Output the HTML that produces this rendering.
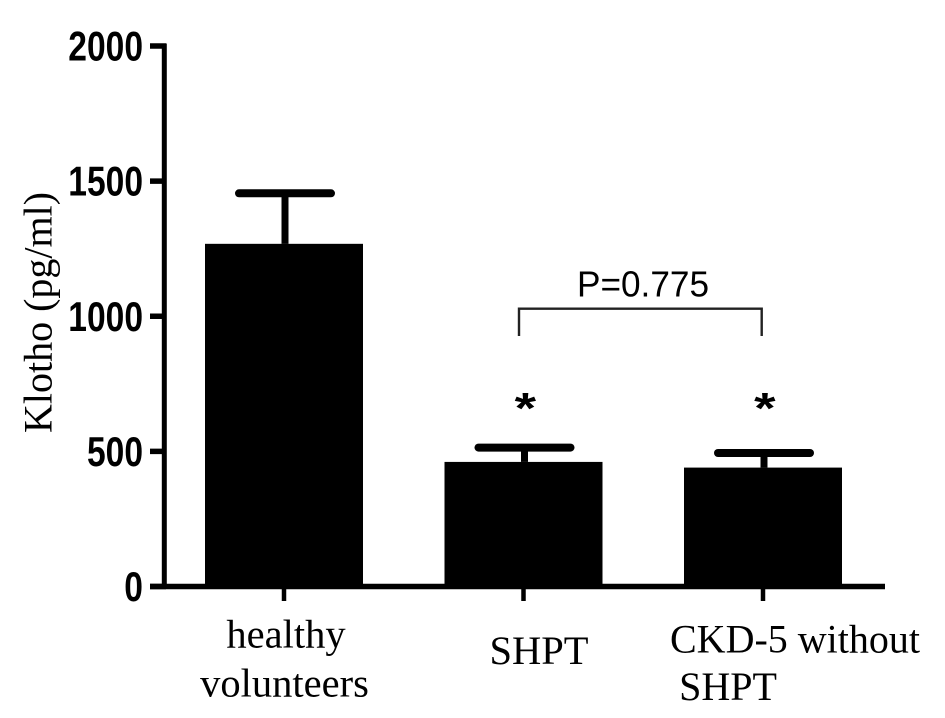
<!DOCTYPE html>
<html>
<head>
<meta charset="utf-8">
<style>
html,body{margin:0;padding:0;background:#fff;}
svg{display:block;}
</style>
</head>
<body>
<svg id="chart" width="945" height="718" viewBox="0 0 945 718" xmlns="http://www.w3.org/2000/svg"></svg>
<script>
const categories = ["healthy volunteers", "SHPT", "CKD-5 without SHPT"];
const means = [1268, 461, 440];
const errors = [187, 53, 54];
const tickLabels = [0, 500, 1000, 1500, 2000];
const significance = ["", "*", "*"];
const pLabel = "P=0.775";

const NS = "http://www.w3.org/2000/svg";
const svg = document.getElementById("chart");

function yScale(v) { return 586.5 - v * 540.5 / 2000; }
function xScale(i) { return 284 + i * 239.5; }

function add(tag, attrs, text, name) {
  const el = document.createElementNS(NS, tag);
  for (const k in attrs) el.setAttribute(k, attrs[k]);
  
  
  if (text !== undefined && text !== null) el.textContent = text;
  svg.appendChild(el);
  return el;
}

const serif = '"Liberation Serif", serif';
const sans = '"Liberation Sans", sans-serif';

// bars and error bars
const barW = 158;
categories.forEach(function (c, i) {
  const x = xScale(i);
  add("rect", {x: x - barW / 2, y: yScale(means[i]), width: barW, height: yScale(0) - yScale(means[i]), fill: "#000"}, null, "bar-" + i);
  const top = yScale(means[i] + errors[i]);
  add("line", {x1: x + 1, x2: x + 1, y1: yScale(means[i]), y2: top, stroke: "#000", "stroke-width": 7}, null, "error-stem-" + i);
  add("line", {x1: x - 45, x2: x + 47, y1: top, y2: top, stroke: "#000", "stroke-width": 8, "stroke-linecap": "round"}, null, "error-cap-" + i);
  add("line", {x1: x, x2: x, y1: 586, y2: 601, stroke: "#000", "stroke-width": 4.5}, null, "x-tick-" + i);
  if (significance[i]) {
    add("text", {transform: "translate(" + (x + 1.8) + ",423) scale(1.25,1)", "text-anchor": "middle", "font-family": sans, "font-size": 44, "font-weight": "bold", fill: "#000"}, significance[i], "significance-star-" + i);
  }
});

// axes
add("line", {x1: 164.3, x2: 164.3, y1: 43.5, y2: 589, stroke: "#000", "stroke-width": 5}, null, "y-axis-line");
add("line", {x1: 150, x2: 885, y1: 586.5, y2: 586.5, stroke: "#000", "stroke-width": 5.5}, null, "x-axis-line");

tickLabels.forEach(function (t) {
  const y = yScale(t);
  add("line", {x1: 150, x2: 166, y1: y, y2: y, stroke: "#000", "stroke-width": 5.5}, null, "y-tick-" + t);
  add("text", {transform: "translate(143," + (y + 14.5) + ") scale(0.8,1)", "text-anchor": "end", "font-family": sans, "font-size": 42, "font-weight": "bold", fill: "#000"}, t, "y-tick-label-" + t);
});

// y-axis title
add("text", {x: 0, y: 0, transform: "translate(51.5,312.5) rotate(-90)", "text-anchor": "middle", "font-family": serif, "font-size": 40, fill: "#000"}, "Klotho (pg/ml)", "y-axis-title");

// category labels
add("text", {x: 286, y: 647.3, "text-anchor": "middle", "font-family": serif, "font-size": 40.5, fill: "#000"}, "healthy", "category-label-healthy");
add("text", {x: 284.5, y: 696.7, "text-anchor": "middle", "font-family": serif, "font-size": 40.5, fill: "#000"}, "volunteers", "category-label-volunteers");
add("text", {x: 539, y: 664, "text-anchor": "middle", "font-family": serif, "font-size": 40.5, fill: "#000"}, "SHPT", "category-label-shpt");
add("text", {x: 795, y: 652.7, "text-anchor": "middle", "font-family": serif, "font-size": 40, fill: "#000"}, "CKD-5 without", "category-label-ckd5-without");
add("text", {x: 728, y: 700, "text-anchor": "middle", "font-family": serif, "font-size": 40, fill: "#000"}, "SHPT", "category-label-ckd5-shpt");

// comparison bracket
add("path", {d: "M519 336 V308.7 H761.7 V336", fill: "none", stroke: "#222", "stroke-width": 2.4}, null, "comparison-bracket");
add("text", {x: 643, y: 296.5, "text-anchor": "middle", textLength: 132, lengthAdjust: "spacingAndGlyphs", "font-family": sans, "font-size": 36, fill: "#000"}, pLabel, "p-value-label");
</script>
</body>
</html>
